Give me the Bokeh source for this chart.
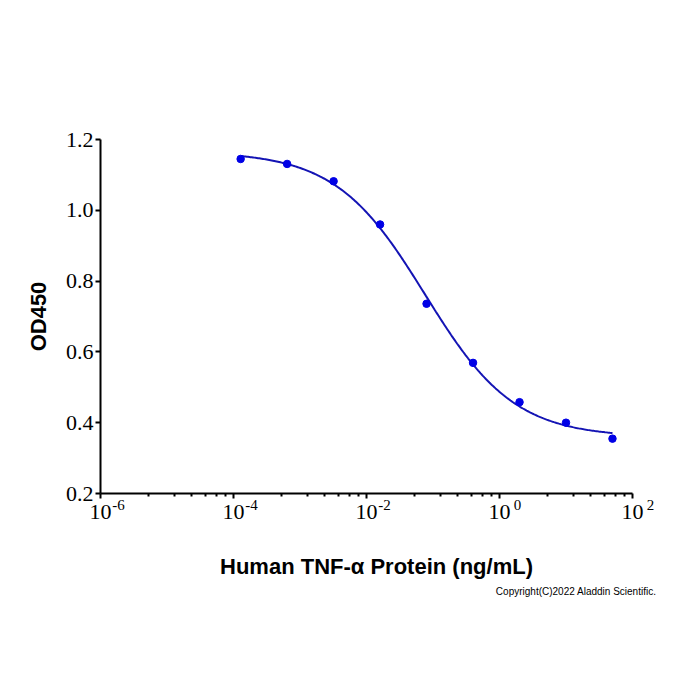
import numpy as np
from bokeh.plotting import figure
from bokeh.models import (FixedTicker, PrintfTickFormatter, LogAxis, Title,
                          Range1d, LogScale)
from bokeh.embed import file_html
from bokeh.resources import INLINE

# Human TNF-alpha dose series (5-fold dilutions from 50 ng/mL) and OD450 readings
concentration = [0.000128, 0.00064, 0.0032, 0.016, 0.08, 0.4, 2.0, 10.0, 50.0]
od450 = [1.145, 1.131, 1.082, 0.960, 0.736, 0.569, 0.458, 0.400, 0.355]

x_major = [1e-6, 1e-4, 1e-2, 1e0, 1e2]
x_major_exponents = ["-6", "-4", "-2", "0", "2"]
y_major = [0.2, 0.4, 0.6, 0.8, 1.0, 1.2]

X_START, X_END = 1e-6, 1e2
PX_PER_DECADE = 66.5
PAD_RIGHT = 20                      # blank strip right of the axis end, room for the last exponent
EXP_SHIFT = 18                      # exponent centre, px right of its tick
FRAME_W = int(round(PX_PER_DECADE * np.log10(X_END / X_START))) + PAD_RIGHT
X_VIEW_END = X_END * 10 ** (PAD_RIGHT / PX_PER_DECADE)


def four_pl(p, lx):
    top, bottom, log_ec50, hill = p
    return bottom + (top - bottom) / (1.0 + 10.0 ** (hill * (lx - log_ec50)))


def fit_four_pl(lx, y, p0, iters=200):
    """Small Levenberg-Marquardt fit of the four-parameter logistic model."""
    p = np.array(p0, dtype=float)
    lam = 1e-3
    for _ in range(iters):
        r = y - four_pl(p, lx)
        J = np.empty((lx.size, p.size))
        for j in range(p.size):
            dp = np.zeros_like(p)
            dp[j] = 1e-6 * max(1.0, abs(p[j]))
            J[:, j] = (four_pl(p + dp, lx) - four_pl(p - dp, lx)) / (2 * dp[j])
        A = J.T @ J
        g = J.T @ r
        step = np.linalg.solve(A + lam * np.diag(np.diag(A)), g)
        p_new = p + step
        if np.sum((y - four_pl(p_new, lx)) ** 2) < np.sum(r ** 2):
            p = p_new
            lam *= 0.3
        else:
            lam *= 10
    return p


lx = np.log10(np.array(concentration))
yv = np.array(od450)
params = fit_four_pl(lx, yv, [1.16, 0.35, -1.2, 0.8])
curve_lx = np.linspace(lx[0], lx[-1], 300)
curve_x = 10 ** curve_lx
curve_y = four_pl(params, curve_lx)

p = figure(
    width=700, height=700,
    x_axis_type="log",
    x_range=(X_START, X_VIEW_END), y_range=(0.2, 1.2),
    output_backend="svg", toolbar_location=None,
    min_border_left=100, min_border_right=700 - 100 - FRAME_W,
    min_border_top=139, min_border_bottom=207,
)
p.outline_line_color = None
p.xgrid.visible = False
p.ygrid.visible = False
p.background_fill_color = "white"
p.border_fill_color = "white"

p.line(curve_x, curve_y, line_color="#1414B4", line_width=2)
p.scatter(concentration, od450, size=7.5, fill_color="#0000E6", line_color="#0000E6")

# minor ticks: six per two-decade interval, GraphPad style
minor = []
for a in x_major[:-1]:
    la = np.log10(a)
    for k in range(1, 7):
        minor.append(10 ** (la + 2 * np.log10(1 + 9 * k / 7)))

xa = p.xaxis[0]
xa.bounds = (X_START, X_END)
xa.ticker = FixedTicker(ticks=x_major, minor_ticks=minor)
# base "10" of each power-of-ten label
xa.major_label_overrides = {t: "10" for t in x_major}
ya = p.yaxis[0]
ya.ticker = FixedTicker(ticks=y_major, minor_ticks=[])
ya.formatter = PrintfTickFormatter(format="%.1f")

for ax in (xa, ya):
    ax.axis_line_width = 2
    ax.axis_line_color = "black"
    ax.major_tick_line_width = 2
    ax.major_tick_line_color = "black"
    ax.minor_tick_line_width = 2
    ax.minor_tick_line_color = "black"
    ax.major_tick_in = 0
    ax.minor_tick_in = 0
    ax.major_label_text_font = "Liberation Serif"
    ax.major_label_text_font_size = "22px"
    ax.major_label_text_color = "black"
    ax.axis_label_text_font = "Liberation Sans"
    ax.axis_label_text_font_style = "bold"
    ax.axis_label_text_color = "black"

xa.major_tick_out = 5
xa.minor_tick_out = 3
xa.major_label_standoff = 6

ya.major_tick_out = 5
ya.minor_tick_out = 0
ya.major_label_standoff = 2
ya.axis_label = "OD450"
ya.axis_label_text_font_size = "22px"
ya.axis_label_standoff = 12

# exponents sit just right of the "10": a copy of the x range moved right
shift = 10 ** (-EXP_SHIFT / PX_PER_DECADE)
p.extra_x_ranges = {"exponent": Range1d(X_START * shift, X_VIEW_END * shift)}
p.extra_x_scales = {"exponent": LogScale()}

exp_axis = LogAxis(
    x_range_name="exponent",
    ticker=FixedTicker(ticks=x_major, minor_ticks=[]),
    major_label_overrides={t: e for t, e in zip(x_major, x_major_exponents)},
    axis_line_color=None,
    major_tick_line_color=None, minor_tick_line_color=None,
    major_tick_out=0, minor_tick_out=0, major_tick_in=0, minor_tick_in=0,
    major_label_standoff=-22,
    major_label_text_font="Liberation Serif",
    major_label_text_font_size="15px",
    major_label_text_color="black",
    axis_label="Human TNF-\u03b1 Protein (ng/mL)",
    axis_label_text_font="Liberation Sans",
    axis_label_text_font_style="bold",
    axis_label_text_font_size="22px",
    axis_label_text_color="black",
    axis_label_standoff=41,
)
p.add_layout(exp_axis, "below")

p.add_layout(Title(
    text="Copyright(C)2022 Aladdin Scientific.", align="right", offset=-4,
    text_font="Liberation Sans", text_font_size="10px",
    text_font_style="normal", text_color="black", standoff=5,
), "below")

open("out.html", "w").write(file_html(p, INLINE))
